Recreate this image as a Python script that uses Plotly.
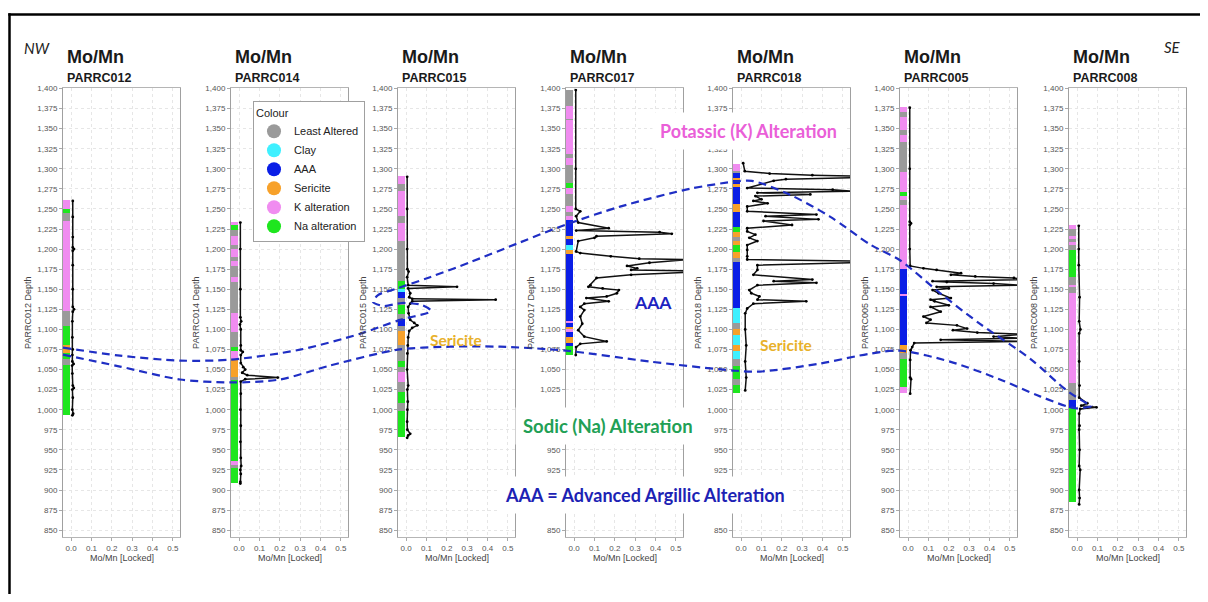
import plotly.graph_objects as go

# page is photographed at 1208x602; the html body adds an 8px margin on every side
PAGE_W, PAGE_H = 1208, 602
BODY_MARGIN = 8
W, H = PAGE_W - 2 * BODY_MARGIN, PAGE_H - 2 * BODY_MARGIN

# ---------------- data ----------------
HOLES = ["PARRC012", "PARRC014", "PARRC015", "PARRC017", "PARRC018", "PARRC005", "PARRC008"]

CAT_CODES = ["L", "C", "A", "S", "K", "N"]
CAT_NAMES = ["Least Altered", "Clay", "AAA", "Sericite", "K alteration", "Na alteration"]
CAT_COLORS = ["#9a9a9a", "#3ff0ff", "#0a1ee6", "#f7a12a", "#f08cf0", "#1ee61e"]

# alteration intervals: (top depth, bottom depth, category)
PARRC012_ALT = [(1260, 1249, "K"), (1249, 1244, "N"), (1244, 1235, "L"), (1235, 1122, "K"),
                (1122, 1104, "L"), (1104, 1080, "N"), (1080, 1070, "S"), (1070, 1062, "N"),
                (1062, 1055, "L"), (1055, 993, "N")]
PARRC014_ALT = [(1233, 1229, "K"), (1229, 1223, "N"), (1223, 1216, "L"), (1216, 1205, "K"),
                (1205, 1200, "L"), (1200, 1190, "K"), (1190, 1185, "L"), (1185, 1178, "K"),
                (1178, 1165, "L"), (1165, 1158, "K"), (1158, 1120, "L"), (1120, 1096, "K"),
                (1096, 1078, "L"), (1078, 1072, "N"), (1072, 1062, "K"), (1062, 1040, "S"),
                (1040, 1036, "L"), (1036, 935, "N"), (935, 931, "K"), (931, 927, "L"), (927, 908, "N")]
PARRC015_ALT = [(1290, 1280, "K"), (1280, 1272, "L"), (1272, 1240, "K"), (1240, 1232, "L"),
                (1232, 1210, "K"), (1210, 1160, "L"), (1160, 1150, "N"), (1150, 1146, "C"),
                (1146, 1138, "A"), (1138, 1130, "L"), (1130, 1118, "N"), (1118, 1112, "L"),
                (1112, 1104, "A"), (1104, 1098, "L"), (1098, 1080, "S"), (1080, 1060, "L"),
                (1060, 1052, "N"), (1052, 1046, "L"), (1046, 1034, "K"), (1034, 1022, "L"),
                (1022, 1008, "N"), (1008, 998, "L"), (998, 965, "N")]
PARRC017_ALT = [(1398, 1378, "L"), (1378, 1362, "K"), (1362, 1360, "L"), (1360, 1318, "K"),
                (1318, 1313, "L"), (1313, 1304, "K"), (1304, 1282, "L"), (1282, 1275, "N"),
                (1275, 1268, "K"), (1268, 1253, "L"), (1253, 1245, "K"), (1245, 1240, "L"),
                (1240, 1236, "K"), (1236, 1216, "A"), (1216, 1212, "S"), (1212, 1204, "A"),
                (1204, 1198, "C"), (1198, 1193, "S"), (1193, 1110, "A"), (1110, 1107, "K"),
                (1107, 1103, "A"), (1103, 1100, "S"), (1100, 1096, "K"), (1096, 1090, "A"),
                (1090, 1083, "S"), (1083, 1079, "A"), (1079, 1068, "N")]
PARRC018_ALT = [(1305, 1297, "K"), (1297, 1294, "L"), (1294, 1288, "A"), (1288, 1285, "S"),
                (1285, 1280, "A"), (1280, 1277, "S"), (1277, 1255, "A"), (1255, 1246, "S"),
                (1246, 1227, "A"), (1227, 1221, "N"), (1221, 1214, "S"), (1214, 1210, "L"),
                (1210, 1204, "S"), (1204, 1196, "N"), (1196, 1188, "S"), (1188, 1183, "L"),
                (1183, 1126, "A"), (1126, 1108, "C"), (1108, 1100, "L"), (1100, 1092, "S"),
                (1092, 1080, "C"), (1080, 1072, "S"), (1072, 1062, "C"), (1062, 1054, "L"),
                (1054, 1038, "N"), (1038, 1030, "L"), (1030, 1020, "N")]
PARRC005_ALT = [(1376, 1370, "K"), (1370, 1364, "L"), (1364, 1348, "K"), (1348, 1342, "L"),
                (1342, 1333, "K"), (1333, 1296, "L"), (1296, 1270, "K"), (1270, 1266, "N"),
                (1266, 1261, "K"), (1261, 1254, "L"), (1254, 1175, "K"), (1175, 1143, "A"),
                (1143, 1141, "K"), (1141, 1080, "A"), (1080, 1070, "S"), (1070, 1062, "L"),
                (1062, 1028, "N"), (1028, 1020, "K")]
PARRC008_ALT = [(1229, 1224, "K"), (1224, 1216, "L"), (1216, 1212, "K"), (1212, 1208, "L"),
                (1208, 1205, "K"), (1205, 1198, "L"), (1198, 1165, "N"), (1165, 1155, "L"),
                (1155, 1152, "K"), (1152, 1145, "L"), (1145, 1033, "K"), (1033, 1012, "L"),
                (1012, 1001, "A"), (1001, 885, "N")]

# Mo/Mn downhole profiles
PARRC012_DEPTH = [1260, 1240, 1215, 1202, 1200, 1198, 1180, 1150, 1128, 1125, 1122, 1110, 1090, 1075,
                  1068, 1060, 1057, 1055, 1045, 1030, 1027, 1025, 1015, 1000, 995, 993]
PARRC012_MOMN = [0.008, 0.008, 0.008, 0.008, 0.014, 0.008, 0.008, 0.008, 0.008, 0.014, 0.008, 0.006, 0.006,
                 0.008, 0.006, 0.006, 0.012, 0.005, 0.006, 0.008, 0.013, 0.006, 0.008, 0.006, 0.01, 0.006]

PARRC014_DEPTH = [1233, 1200, 1150, 1115, 1110, 1106, 1100, 1080, 1074, 1072, 1068, 1058, 1053, 1050,
                  1046, 1043, 1040, 1038, 1035, 1020, 1000, 980, 960, 940, 930, 925, 920, 910, 908]
PARRC014_MOMN = [0.006, 0.006, 0.006, 0.006, 0.01, 0.004, 0.008, 0.008, 0.008, 0.018, 0.008, 0.008, 0.02,
                 0.03, 0.015, 0.04, 0.19, 0.03, 0.008, 0.008, 0.006, 0.008, 0.006, 0.008, 0.01, 0.006,
                 0.008, 0.006, 0.006]

PARRC015_DEPTH = [1290, 1250, 1200, 1175, 1172, 1165, 1155, 1153, 1151, 1145, 1140, 1138, 1137, 1135,
                  1132, 1128, 1120, 1112, 1108, 1105, 1102, 1098, 1090, 1080, 1070, 1050, 1030, 1025,
                  1010, 1000, 985, 975, 970, 968, 965]
PARRC015_MOMN = [0.005, 0.005, 0.005, 0.006, 0.012, 0.005, 0.01, 0.25, 0.01, 0.02, 0.015, 0.03, 0.44,
                 0.03, 0.02, 0.01, 0.012, 0.02, 0.04, 0.055, 0.03, 0.015, 0.01, 0.008, 0.006, 0.005,
                 0.01, 0.006, 0.008, 0.006, 0.005, 0.006, 0.02, 0.01, 0.005]

PARRC017_DEPTH = [1398, 1300, 1250, 1247, 1241, 1233, 1226, 1223, 1221, 1219, 1216, 1214, 1210, 1197,
                  1195, 1191, 1188, 1187, 1183, 1179, 1176, 1174, 1173, 1171, 1168, 1164, 1155, 1153,
                  1151, 1149, 1145, 1141, 1139, 1135, 1132, 1128, 1124, 1116, 1107, 1099, 1091, 1085,
                  1082, 1078, 1068]
PARRC017_MOMN = [0.008, 0.008, 0.008, 0.03, 0.01, 0.02, 0.17, 0.01, 0.42, 0.48, 0.11, 0.1, 0.02, 0.01,
                 0.03, 0.18, 0.32, 0.56, 0.37, 0.26, 0.31, 0.28, 0.56, 0.56, 0.28, 0.11, 0.08, 0.07,
                 0.14, 0.22, 0.21, 0.16, 0.06, 0.17, 0.05, 0.03, 0.05, 0.03, 0.04, 0.02, 0.05, 0.16,
                 0.03, 0.01, 0.008]

PARRC018_DEPTH = [1307, 1297, 1294, 1292, 1291, 1289, 1287, 1285, 1276, 1274, 1272, 1270, 1268, 1266,
                  1262, 1260, 1257, 1253, 1247, 1243, 1241, 1237, 1235, 1230, 1226, 1222, 1218, 1214,
                  1210, 1205, 1199, 1191, 1187, 1185, 1183, 1180, 1174, 1168, 1162, 1160, 1158, 1155,
                  1149, 1145, 1141, 1137, 1135, 1132, 1126, 1120, 1100, 1080, 1060, 1040, 1024]
PARRC018_MOMN = [0.01, 0.018, 0.14, 0.35, 0.56, 0.56, 0.22, 0.16, 0.03, 0.45, 0.56, 0.08, 0.34, 0.07,
                 0.1, 0.06, 0.13, 0.03, 0.03, 0.37, 0.12, 0.38, 0.11, 0.25, 0.03, 0.03, 0.07, 0.04,
                 0.08, 0.03, 0.03, 0.03, 0.03, 0.56, 0.56, 0.08, 0.08, 0.06, 0.35, 0.16, 0.37, 0.08,
                 0.04, 0.05, 0.09, 0.08, 0.32, 0.06, 0.03, 0.02, 0.02, 0.025, 0.02, 0.025, 0.02]

PARRC005_DEPTH = [1376, 1300, 1234, 1232, 1230, 1200, 1179, 1176, 1174, 1170, 1168, 1166, 1164, 1162,
                  1160, 1159, 1157, 1155, 1153, 1151, 1149, 1145, 1139, 1137, 1135, 1130, 1128, 1122,
                  1116, 1112, 1108, 1105, 1101, 1099, 1096, 1094, 1091, 1089, 1087, 1085, 1083, 1078,
                  1074, 1062, 1040, 1038, 1020]
PARRC005_MOMN = [0.008, 0.008, 0.008, 0.014, 0.008, 0.008, 0.01, 0.075, 0.14, 0.26, 0.21, 0.33, 0.52,
                 0.56, 0.12, 0.19, 0.42, 0.56, 0.14, 0.2, 0.12, 0.15, 0.21, 0.11, 0.13, 0.2, 0.11, 0.16,
                 0.075, 0.11, 0.09, 0.24, 0.29, 0.22, 0.34, 0.56, 0.42, 0.56, 0.16, 0.56, 0.03, 0.02,
                 0.012, 0.01, 0.01, 0.014, 0.01]

PARRC008_DEPTH = [1229, 1200, 1180, 1140, 1110, 1100, 1095, 1060, 1030, 1015, 1008, 1005, 1003, 1001,
                  995, 980, 975, 950, 930, 925, 900, 890, 882]
PARRC008_MOMN = [0.008, 0.008, 0.008, 0.012, 0.01, 0.016, 0.01, 0.01, 0.012, 0.01, 0.05, 0.02, 0.095,
                 0.015, 0.01, 0.012, 0.01, 0.012, 0.01, 0.015, 0.01, 0.012, 0.01]

ALTERATION = [PARRC012_ALT, PARRC014_ALT, PARRC015_ALT, PARRC017_ALT, PARRC018_ALT, PARRC005_ALT, PARRC008_ALT]
DEPTHS = [PARRC012_DEPTH, PARRC014_DEPTH, PARRC015_DEPTH, PARRC017_DEPTH, PARRC018_DEPTH, PARRC005_DEPTH, PARRC008_DEPTH]
MOMN = [PARRC012_MOMN, PARRC014_MOMN, PARRC015_MOMN, PARRC017_MOMN, PARRC018_MOMN, PARRC005_MOMN, PARRC008_MOMN]

DEPTH_TICKS = list(range(850, 1401, 25))
MOMN_TICKS = [0.0, 0.1, 0.2, 0.3, 0.4, 0.5]

# interpreted boundaries drawn over the sections (page pixel space)
BOUNDARY_UPPER_X = [63, 120, 180, 231, 300, 360, 400, 431, 422, 402, 384, 373, 378, 395, 430, 470, 520,
                    566, 620, 690, 733, 752, 790, 830, 870, 900, 940, 980, 1030, 1068, 1092]
BOUNDARY_UPPER_Y = [346, 354, 359, 358, 348, 332, 318, 309, 303, 301, 304, 300, 293, 287, 275, 260, 240,
                    222, 204, 186, 179, 178, 192, 214, 242, 258, 291, 322, 357, 390, 405]
BOUNDARY_LOWER_X = [63, 120, 180, 231, 280, 330, 398, 450, 500, 566, 650, 733, 760, 820, 870, 900, 950,
                    1000, 1040, 1075, 1092]
BOUNDARY_LOWER_Y = [353, 365, 378, 381, 378, 364, 348, 345, 345, 349, 360, 369, 370, 362, 352, 349, 360,
                    378, 395, 407, 405]

# ---------------- layout geometry (page pixels) ----------------
AXIS_LEFT_PX = [63, 231, 398, 566, 733, 900, 1069]
PANEL_W_PX = 117
PLOT_TOP_PX, PLOT_BOTTOM_PX = 85, 537
X_RANGE = [-0.04, 0.535]
Y_RANGE = [841, 1400]


def px(x):
    return (x - BODY_MARGIN) / W


def py(y):
    return 1 - (y - BODY_MARGIN) / H


fig = go.Figure()
color_of = dict(zip(CAT_CODES, CAT_COLORS))
TICKFONT = dict(family="Liberation Sans, Arial", size=8, color="#555")

annotations = []
layout_axes = {}
for i, hole in enumerate(HOLES):
    n = i + 1
    xa = "x" if n == 1 else f"x{n}"
    ya = "y" if n == 1 else f"y{n}"
    ivals = ALTERATION[i]
    fig.add_trace(go.Bar(
        orientation="h",
        y=[(t + b) / 2 for t, b, c in ivals],
        width=[t - b for t, b, c in ivals],
        x=[0.031 for _ in ivals],
        base=[-0.039 for _ in ivals],
        marker=dict(color=[color_of[c] for t, b, c in ivals], line=dict(width=0)),
        xaxis=xa, yaxis=ya, showlegend=False, hoverinfo="skip",
    ))
    fig.add_trace(go.Scatter(
        x=MOMN[i], y=DEPTHS[i], mode="lines+markers",
        line=dict(color="#111", width=1.5),
        marker=dict(size=2.8, color="#000"),
        xaxis=xa, yaxis=ya, showlegend=False, hoverinfo="skip", cliponaxis=True,
    ))
    L = AXIS_LEFT_PX[i]
    layout_axes["xaxis" if n == 1 else f"xaxis{n}"] = dict(
        domain=[px(L), px(L + PANEL_W_PX)], anchor=ya, range=X_RANGE,
        tickvals=MOMN_TICKS, tickformat=".1f", tickfont=TICKFONT,
        showgrid=True, gridcolor="#e6e6e6", griddash="dot", gridwidth=1,
        showline=True, linecolor="#b5b5b5", linewidth=1, mirror=True,
        ticks="outside", ticklen=3, tickcolor="#aaa", zeroline=False, fixedrange=True,
    )
    layout_axes["yaxis" if n == 1 else f"yaxis{n}"] = dict(
        domain=[py(PLOT_BOTTOM_PX), py(PLOT_TOP_PX)], anchor=xa, range=Y_RANGE,
        tickvals=DEPTH_TICKS, tickformat=",d", tickfont=TICKFONT,
        showgrid=True, gridcolor="#e6e6e6", griddash="dot", gridwidth=1,
        showline=True, linecolor="#a0a0a0", linewidth=1, mirror=True,
        ticks="outside", ticklen=3, tickcolor="#aaa", zeroline=False, fixedrange=True,
    )
    # panel titles
    annotations.append(dict(x=px(L + 2), y=py(53), xref="paper", yref="paper", xanchor="left",
                            yanchor="middle", text="<b>Mo/Mn</b>", showarrow=False,
                            font=dict(family="Liberation Sans, Arial", size=18, color="#1a1a1a")))
    annotations.append(dict(x=px(L + 2), y=py(74), xref="paper", yref="paper", xanchor="left",
                            yanchor="middle", text=f"<b>{hole}</b>", showarrow=False,
                            font=dict(family="Liberation Sans, Arial", size=12.5, color="#1a1a1a")))
    # axis titles
    annotations.append(dict(x=px(L + PANEL_W_PX / 2), y=py(558), xref="paper", yref="paper",
                            xanchor="center", yanchor="middle", text="Mo/Mn [Locked]", showarrow=False,
                            font=dict(family="Liberation Sans, Arial", size=9, color="#444")))
    annotations.append(dict(x=px(L - 35), y=py((PLOT_TOP_PX + PLOT_BOTTOM_PX) / 2), xref="paper",
                            yref="paper", xanchor="center", yanchor="middle", textangle=-90,
                            text=f"{hole} Depth", showarrow=False,
                            font=dict(family="Liberation Sans, Arial", size=9, color="#444")))

# legend entries
for name, col in zip(CAT_NAMES, CAT_COLORS):
    fig.add_trace(go.Scatter(x=[None], y=[None], mode="markers", name=name,
                             marker=dict(size=14, color=col, symbol="circle"),
                             xaxis="x2", yaxis="y2", hoverinfo="skip"))

# overlay axis (page pixel space) for the interpreted boundaries
fig.add_trace(go.Scatter(x=BOUNDARY_UPPER_X, y=BOUNDARY_UPPER_Y, mode="lines",
                         line=dict(shape="spline", smoothing=0.8, dash="8px,5px", color="#1f2ec4", width=2.2),
                         xaxis="x8", yaxis="y8", showlegend=False, hoverinfo="skip"))
fig.add_trace(go.Scatter(x=BOUNDARY_LOWER_X, y=BOUNDARY_LOWER_Y, mode="lines",
                         line=dict(shape="spline", smoothing=0.8, dash="8px,5px", color="#1f2ec4", width=2.2),
                         xaxis="x8", yaxis="y8", showlegend=False, hoverinfo="skip"))
layout_axes["xaxis8"] = dict(domain=[0, 1], range=[BODY_MARGIN, BODY_MARGIN + W], visible=False,
                             anchor="y8", fixedrange=True)
layout_axes["yaxis8"] = dict(domain=[0, 1], range=[BODY_MARGIN + H, BODY_MARGIN], visible=False,
                             anchor="x8", fixedrange=True)

LABEL_FONT = "Lato, Open Sans, sans-serif"
annotations += [
    dict(x=px(37), y=py(44), text="<i>NW</i>", font=dict(family=LABEL_FONT, size=15, color="#222")),
    dict(x=px(1172), y=py(43), text="<i>SE</i>", font=dict(family=LABEL_FONT, size=15, color="#222")),
    dict(x=px(749), y=py(128), text="<b>Potassic (K) Alteration</b>", bgcolor="white", borderpad=7,
         font=dict(family=LABEL_FONT, size=18, color="#ea5fd8")),
    dict(x=px(653), y=py(300), text="<b>AAA</b>",
         font=dict(family=LABEL_FONT, size=17.5, color="#1c22c0")),
    dict(x=px(456), y=py(338), text="<b>Sericite</b>",
         font=dict(family=LABEL_FONT, size=15.5, color="#e8b12a")),
    dict(x=px(786), y=py(343), text="<b>Sericite</b>",
         font=dict(family=LABEL_FONT, size=15.5, color="#e8b12a")),
    dict(x=px(608), y=py(425), text="<b>Sodic (Na) Alteration</b>", bgcolor="white", borderpad=7,
         font=dict(family=LABEL_FONT, size=18.5, color="#21a055")),
    dict(x=px(645), y=py(494), text="<b>AAA = Advanced Argillic Alteration</b>", bgcolor="white",
         borderpad=7, font=dict(family=LABEL_FONT, size=18, color="#1c22b4")),
]
for a in annotations[-8:]:
    a.update(xref="paper", yref="paper", xanchor="center", yanchor="middle", showarrow=False)

BORDER = dict(color="black", width=2.5)
fig.update_layout(
    width=W, height=H,
    margin=dict(l=0, r=0, t=0, b=0),
    paper_bgcolor="white", plot_bgcolor="rgba(0,0,0,0)",
    showlegend=True,
    legend=dict(x=px(253), y=py(98), xanchor="left", yanchor="top", bgcolor="white",
                bordercolor="#a0a0a0", borderwidth=1,
                title=dict(text="Colour", font=dict(family="Liberation Sans, Arial", size=11, color="#222")),
                font=dict(family="Liberation Sans, Arial", size=11, color="#222"),
                itemsizing="trace", tracegroupgap=0),
    annotations=annotations,
    shapes=[
        dict(type="line", xref="paper", yref="paper", x0=px(8.3), x1=1.0, y0=py(10.5), y1=py(10.5),
             line=BORDER, layer="above"),
        dict(type="line", xref="paper", yref="paper", x0=px(9.5), x1=px(9.5), y0=py(9.3), y1=0.0,
             line=BORDER, layer="above"),
    ],
    bargap=0,
    **layout_axes,
)

fig.write_html("out.html")
